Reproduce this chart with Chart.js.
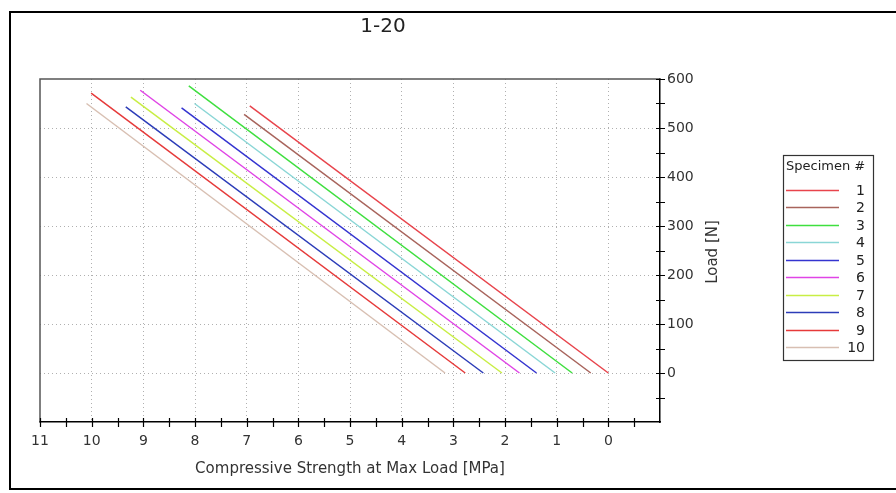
<!DOCTYPE html>
<html>
<head>
<meta charset="utf-8">
<script src="https://cdn.jsdelivr.net/npm/chart.js@4/dist/chart.umd.min.js"></script>
<style>
  html, body { margin: 0; padding: 0; background: #fff; }
  #wrap { width: 896px; height: 493px; }
</style>
</head>
<body>
<div id="wrap"><canvas id="c" width="896" height="493"></canvas></div>
<script>
// ---- data ----
const specimens      = ['1','2','3','4','5','6','7','8','9','10'];
const strengthAtZero = [0.00, 0.34, 0.70, 1.03, 1.39, 1.72, 2.06, 2.42, 2.77, 3.16];   // MPa at 0 N
const strengthAtMax  = [6.94, 7.05, 8.12, 8.01, 8.26, 9.06, 9.24, 9.34, 10.01, 10.10]; // MPa at max load
const maxLoad        = [545, 528, 586, 550, 541, 577, 563, 543, 571, 550];              // N
const colors = ['#e8444c','#a8645c','#3fdf3f','#8ad6d6','#3434d0','#e044e6','#c8ee44','#2c3cb8','#e63a3a','#d8bfb2'];
const chartTitle = '1-20';
const xTitle = 'Compressive Strength at Max Load [MPa]';
const yTitle = 'Load [N]';
const legendTitle = 'Specimen #';

const FONT = "'DejaVu Sans', Verdana, sans-serif";

const datasets = specimens.map((s, i) => ({
  label: s,
  data: [{x: strengthAtZero[i], y: 0}, {x: strengthAtMax[i], y: maxLoad[i]}],
  borderColor: colors[i],
  backgroundColor: colors[i],
  borderWidth: 1.5,
  showLine: true,
  pointRadius: 0,
  fill: false
}));

const decor = {
  id: 'decor',
  beforeDraw(chart) {
    const ctx = chart.ctx;
    ctx.save();
    ctx.fillStyle = '#fff';
    ctx.fillRect(0, 0, chart.width, chart.height);
    ctx.restore();
  },
  afterDraw(chart) {
    const ctx = chart.ctx;
    const a = chart.chartArea;
    const xs = chart.scales.x, ys = chart.scales.y;
    ctx.save();
    // outer frame
    ctx.strokeStyle = '#000';
    ctx.lineWidth = 2;
    ctx.beginPath();
    ctx.moveTo(905, 12); ctx.lineTo(10, 12); ctx.lineTo(10, 489); ctx.lineTo(905, 489);
    ctx.stroke();
    // top & left plot border
    ctx.strokeStyle = '#555';
    ctx.lineWidth = 1.5;
    ctx.beginPath();
    ctx.moveTo(a.right, a.top); ctx.lineTo(a.left, a.top); ctx.lineTo(a.left, a.bottom);
    ctx.stroke();
    // tick marks crossing axes
    ctx.strokeStyle = '#000';
    ctx.lineWidth = 1.2;
    ctx.beginPath();
    xs.ticks.forEach(t => {
      if (t.value <= -1) return;
      const px = Math.round(xs.getPixelForValue(t.value)) + 0.5;
      ctx.moveTo(px, a.bottom - 4); ctx.lineTo(px, a.bottom + 5);
    });
    ys.ticks.forEach(t => {
      if (t.value <= -100) return;
      const py = Math.round(ys.getPixelForValue(t.value)) + 0.5;
      ctx.moveTo(a.right - 4, py); ctx.lineTo(a.right + 5, py);
    });
    ctx.stroke();
    // chart title
    ctx.fillStyle = '#222';
    ctx.font = '20px ' + FONT;
    ctx.textAlign = 'center';
    ctx.textBaseline = 'middle';
    ctx.fillText(chartTitle, 383, 27);
    // y title
    ctx.save();
    ctx.translate(713, 252);
    ctx.rotate(-Math.PI / 2);
    ctx.font = '15px ' + FONT;
    ctx.fillStyle = '#333';
    ctx.fillText(yTitle, 0, 0);
    ctx.restore();
    // legend
    const lx = 783, ly = 155, lw = 90, lh = 205;
    ctx.strokeStyle = '#333';
    ctx.lineWidth = 1.2;
    ctx.strokeRect(lx + 0.5, ly + 0.5, lw, lh);
    ctx.fillStyle = '#222';
    ctx.font = '13px ' + FONT;
    ctx.textAlign = 'left';
    ctx.fillText(legendTitle, lx + 3, ly + 12);
    chart.data.datasets.forEach((d, i) => {
      const y = Math.round(190 + i * 17.45) + 0.5;
      ctx.strokeStyle = d.borderColor;
      ctx.lineWidth = 1.3;
      ctx.beginPath();
      ctx.moveTo(786, y); ctx.lineTo(839, y);
      ctx.stroke();
      ctx.fillStyle = '#222';
      ctx.font = '14px ' + FONT;
      ctx.textAlign = 'right';
      ctx.fillText(d.label, 865, y + 1);
    });
    ctx.restore();
  }
};

new Chart(document.getElementById('c'), {
  type: 'scatter',
  data: { datasets },
  options: {
    responsive: false,
    animation: false,
    devicePixelRatio: 1,
    layout: { padding: { left: 40, top: 79, right: 0, bottom: 0 } },
    plugins: { legend: { display: false }, title: { display: false }, tooltip: { enabled: false } },
    elements: { line: { tension: 0 } },
    scales: {
      x: {
        type: 'linear', reverse: true, min: -1, max: 11,
        afterFit(s) { s.height = 71; },
        border: { color: '#000', width: 1.5, dash: [1, 3] },
        grid: {
          drawTicks: false,
          lineWidth: 1,
          color(c) { const v = c.tick && c.tick.value; return (Number.isInteger(v) && v > -1 && v < 11) ? '#b0b0b0' : 'rgba(0,0,0,0)'; }
        },
        ticks: {
          stepSize: 0.5, autoSkip: false, maxRotation: 0, padding: 11, color: '#333',
          font: { family: FONT, size: 14 },
          callback(v) { return (Number.isInteger(v) && v >= 0) ? String(v) : ''; }
        },
        title: { display: true, text: xTitle, color: '#333', font: { family: FONT, size: 15 }, padding: { top: 0, bottom: 15 } }
      },
      y: {
        type: 'linear', position: 'right', min: -100, max: 600,
        afterFit(s) { s.width = 236; },
        border: { color: '#000', width: 1.5, dash: [1, 3] },
        grid: {
          drawTicks: false,
          lineWidth: 1,
          color(c) { const v = c.tick && c.tick.value; return (v % 100 === 0 && v > -100 && v < 600) ? '#b0b0b0' : 'rgba(0,0,0,0)'; }
        },
        ticks: {
          stepSize: 50, autoSkip: false, padding: 7, color: '#333',
          font: { family: FONT, size: 14 },
          callback(v) { return (v % 100 === 0 && v > -100) ? String(v) : ''; }
        }
      }
    }
  },
  plugins: [decor]
});
</script>
</body>
</html>
